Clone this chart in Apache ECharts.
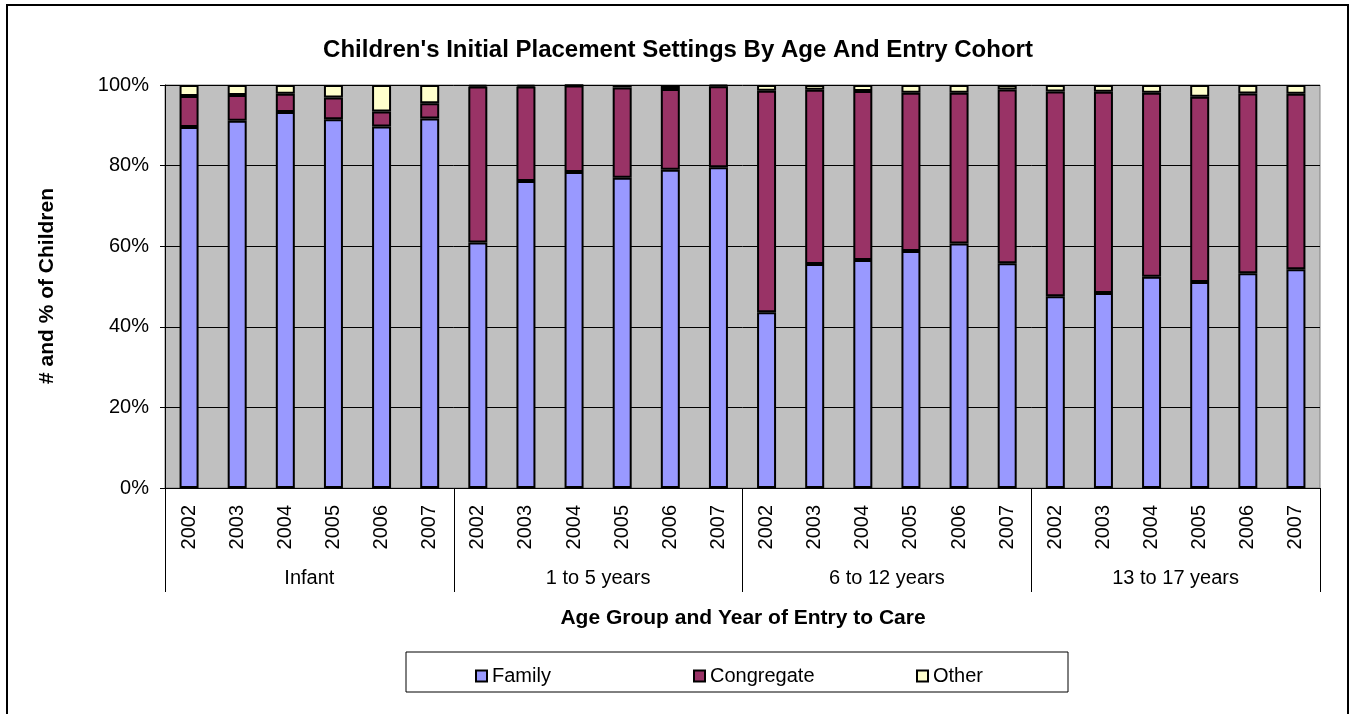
<!DOCTYPE html>
<html>
<head>
<meta charset="utf-8">
<title>Children's Initial Placement Settings</title>
<script src="https://cdn.jsdelivr.net/npm/echarts@6/dist/echarts.min.js"></script>
<style>
  html, body { margin: 0; padding: 0; background: #fff; }
  #chart { width: 1357px; height: 714px; }
</style>
</head>
<body>
<div id="chart"></div>
<script>
// category labels
const years = ['2002', '2003', '2004', '2005', '2006', '2007',
  '2002', '2003', '2004', '2005', '2006', '2007',
  '2002', '2003', '2004', '2005', '2006', '2007',
  '2002', '2003', '2004', '2005', '2006', '2007'];
const ageGroups = ['Infant', '1 to 5 years', '6 to 12 years', '13 to 17 years'];
const yTicks = [0, 20, 40, 60, 80, 100];
const seriesNames = ['Family', 'Congregate', 'Other'];

// percentages
const family = [89.6, 91.1, 93.3, 91.5, 89.7, 91.7,
  60.9, 76.2, 78.4, 77.0, 79.0, 79.6,
  43.6, 55.6, 56.6, 58.8, 60.7, 55.8,
  47.6, 48.4, 52.4, 51.1, 53.3, 54.3];
const congregate = [7.7, 6.4, 4.5, 5.4, 3.7, 3.8,
  38.7, 23.4, 21.5, 22.4, 20.0, 20.1,
  55.0, 43.2, 41.9, 39.3, 37.4, 43.1,
  50.8, 49.9, 45.7, 46.0, 44.6, 43.5];
const other = [2.7, 2.5, 2.2, 3.1, 6.6, 4.5,
  0.4, 0.4, 0.1, 0.6, 1.0, 0.3,
  1.4, 1.2, 1.5, 1.9, 1.9, 1.1,
  1.6, 1.7, 1.9, 2.9, 2.1, 2.2];

const FONT = '"Liberation Sans", Arial, sans-serif';

const chart = echarts.init(document.getElementById('chart'));

function barSeries(name, data, color) {
  return {
    name: name,
    type: 'bar',
    stack: 'total',
    xAxisIndex: 0,
    barWidth: 19,
    data: data,
    itemStyle: { color: color, borderColor: '#000', borderWidth: 2 },
    emphasis: { disabled: true }
  };
}

// one legend per entry so the items sit where the original puts them
const legendLefts = [470, 688, 911];
const legends = seriesNames.map((name, i) => ({
  left: legendLefts[i], top: 661,
  itemWidth: 11, itemHeight: 11,
  icon: 'rect',
  data: [name],
  textStyle: { fontSize: 20, fontFamily: FONT, color: '#000' }
}));

chart.setOption({
  backgroundColor: '#fff',
  animation: false,
  textStyle: { fontFamily: FONT, color: '#000' },
  grid: {
    left: 165, right: 37, top: 85, bottom: 226,
    show: true, backgroundColor: '#C0C0C0', borderColor: '#808080', borderWidth: 1
  },
  legend: legends,
  xAxis: [
    {
      type: 'category',
      data: years,
      position: 'bottom',
      axisLine: { lineStyle: { color: '#000', width: 1 } },
      axisTick: { interval: 0, length: 61, lineStyle: { color: '#000' } },
      axisLabel: { interval: 0, rotate: 90, margin: 17, fontSize: 20, color: '#000', fontFamily: FONT }
    },
    {
      type: 'category',
      data: ageGroups,
      position: 'bottom',
      axisLine: { show: false },
      axisTick: { show: true, interval: 0, length: 104, lineStyle: { color: '#000' } },
      axisLabel: { interval: 0, margin: 80, fontSize: 20, color: '#000', fontFamily: FONT }
    }
  ],
  yAxis: {
    type: 'value',
    min: yTicks[0],
    max: yTicks[yTicks.length - 1],
    interval: 20,
    axisLine: { show: true, lineStyle: { color: '#000' } },
    axisTick: { show: true, length: 5, lineStyle: { color: '#000' } },
    axisLabel: { formatter: '{value}%', fontSize: 20, margin: 16, color: '#000', fontFamily: FONT },
    splitLine: { lineStyle: { color: '#000', width: 1 } }
  },
  series: [
    barSeries(seriesNames[0], family, '#9999FF'),
    barSeries(seriesNames[1], congregate, '#993366'),
    barSeries(seriesNames[2], other, '#FFFFCC')
  ],
  graphic: [
    {
      type: 'rect', silent: true,
      shape: { x: 7, y: 5, width: 1341, height: 730 },
      style: { fill: 'none', stroke: '#000', lineWidth: 2 }
    },
    {
      type: 'rect', silent: true, z: -1,
      shape: { x: 406, y: 652, width: 662, height: 40 },
      style: { fill: '#fff', stroke: '#000', lineWidth: 1 }
    },
    {
      type: 'text', x: 678, y: 50,
      style: {
        text: "Children's Initial Placement Settings By Age And Entry Cohort",
        font: 'bold 24px ' + FONT, fill: '#000', textAlign: 'center', textVerticalAlign: 'middle'
      }
    },
    {
      type: 'text', x: 743, y: 618,
      style: {
        text: 'Age Group and Year of Entry to Care',
        font: 'bold 21px ' + FONT, fill: '#000', textAlign: 'center', textVerticalAlign: 'middle'
      }
    },
    {
      type: 'text', x: 47, y: 286, rotation: Math.PI / 2,
      style: {
        text: '# and % of Children',
        font: 'bold 21px ' + FONT, fill: '#000', textAlign: 'center', textVerticalAlign: 'middle'
      }
    }
  ]
});
</script>
</body>
</html>
